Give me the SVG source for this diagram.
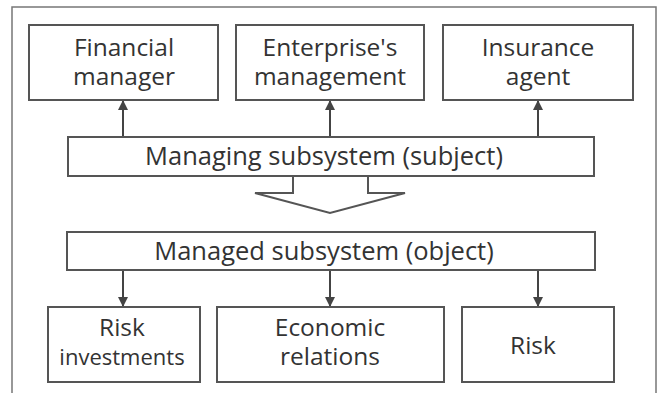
<svg xmlns="http://www.w3.org/2000/svg" width="662" height="393" viewBox="0 0 662 393">
<defs>
<marker id="ah" markerWidth="10" markerHeight="12" refX="9" refY="5" orient="auto" markerUnits="userSpaceOnUse" viewBox="0 0 10 10">
<path d="M0,0 L10,5 L0,10 z" fill="#444"/>
</marker>
<style>
.box{fill:#fff;stroke:#555;stroke-width:2}
.t{font-family:"Open Sans","Noto Sans",sans-serif;font-size:24.5px;fill:#333;text-anchor:middle}
.c{stroke:#444;stroke-width:2;fill:none}
</style>
</defs>
<rect width="662" height="393" fill="#fff"/>
<path d="M12,393 V7 H656 V393" fill="none" stroke="#777" stroke-width="1.5"/>
<g id="connectors">
<line class="c" x1="123" y1="137" x2="123" y2="101" marker-end="url(#ah)"/>
<line class="c" x1="330" y1="137" x2="330" y2="101" marker-end="url(#ah)"/>
<line class="c" x1="538" y1="137" x2="538" y2="101" marker-end="url(#ah)"/>
<line class="c" x1="123" y1="270" x2="123" y2="306" marker-end="url(#ah)"/>
<line class="c" x1="330" y1="270" x2="330" y2="306" marker-end="url(#ah)"/>
<line class="c" x1="538" y1="270" x2="538" y2="306" marker-end="url(#ah)"/>
<path d="M293,176 V193 H255 L330,213 L405,193 H368 V176" fill="#fff" stroke="#555" stroke-width="2" stroke-linejoin="miter"/>
</g>
<g id="financial"><rect class="box" x="29" y="25" width="189" height="75"/><text class="t" x="124" y="56">Financial</text><text class="t" x="124" y="85">manager</text></g>
<g id="enterprise"><rect class="box" x="236" y="25" width="188" height="75"/><text class="t" x="330" y="56">Enterprise's</text><text class="t" x="330" y="85">management</text></g>
<g id="insurance"><rect class="box" x="443" y="25" width="190" height="75"/><text class="t" x="538" y="56">Insurance</text><text class="t" x="538" y="85">agent</text></g>
<g id="managing"><rect class="box" x="68" y="137" width="526" height="39"/><text class="t" x="324" y="165" style="font-size:25.5px">Managing subsystem (subject)</text></g>
<g id="managed"><rect class="box" x="67" y="232" width="528" height="38"/><text class="t" x="324" y="260" style="font-size:25.5px">Managed subsystem (object)</text></g>
<g id="riskinv"><rect class="box" x="48" y="307" width="152" height="75"/><text class="t" x="122" y="336">Risk</text><text class="t" x="122" y="365" style="font-size:22px">investments</text></g>
<g id="economic"><rect class="box" x="217" y="307" width="227" height="75"/><text class="t" x="330" y="336">Economic</text><text class="t" x="330" y="365">relations</text></g>
<g id="risk"><rect class="box" x="462" y="307" width="152" height="75"/><text class="t" x="533" y="354">Risk</text></g>
</svg>
